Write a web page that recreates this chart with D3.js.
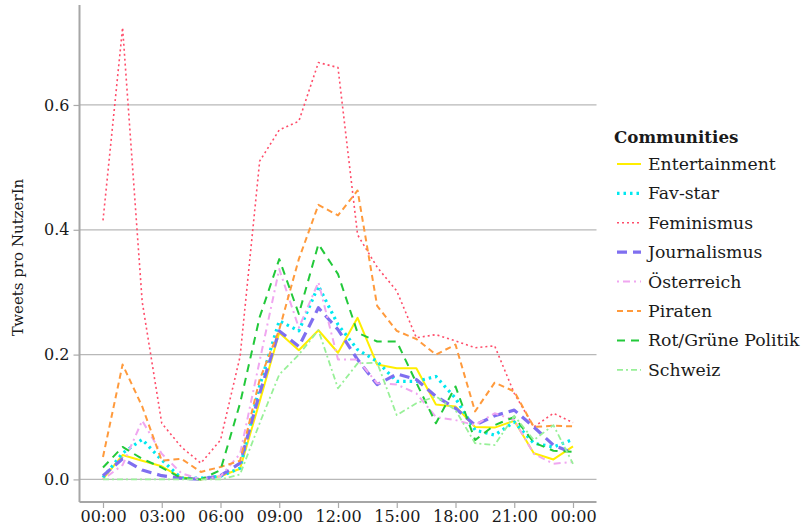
<!DOCTYPE html>
<html>
<head>
<meta charset="utf-8">
<script src="https://cdn.jsdelivr.net/npm/d3@7"></script>
<style>
  body { margin: 0; background: #fff; }
  text { font-family: "DejaVu Serif", serif; }
</style>
</head>
<body>
<div id="chart"></div>
<script>
// Data
const hours = d3.range(0, 25);
const communities = ["Entertainment", "Fav-star", "Feminismus", "Journalismus", "Österreich", "Piraten", "Rot/Grüne Politik", "Schweiz"];

const entertainment = [0.001, 0.039, 0.030, 0.021, 0.003, 0.000, 0.005, 0.017, 0.125, 0.235, 0.207, 0.239, 0.203, 0.259, 0.184, 0.178, 0.178, 0.120, 0.117, 0.084, 0.083, 0.094, 0.042, 0.032, 0.053];
const favStar = [0.003, 0.042, 0.064, 0.031, 0.002, 0.002, 0.005, 0.018, 0.150, 0.254, 0.238, 0.310, 0.248, 0.208, 0.189, 0.157, 0.157, 0.165, 0.130, 0.079, 0.071, 0.092, 0.058, 0.052, 0.064];
const feminismus = [0.415, 0.724, 0.285, 0.090, 0.052, 0.026, 0.063, 0.197, 0.510, 0.560, 0.574, 0.668, 0.660, 0.392, 0.340, 0.302, 0.227, 0.232, 0.222, 0.211, 0.214, 0.138, 0.084, 0.106, 0.091];
const journalismus = [0.006, 0.033, 0.015, 0.006, 0.002, 0.000, 0.006, 0.026, 0.138, 0.238, 0.213, 0.275, 0.240, 0.192, 0.152, 0.169, 0.160, 0.133, 0.114, 0.087, 0.102, 0.111, 0.084, 0.055, 0.042];
const oesterreich = [0.000, 0.023, 0.094, 0.041, 0.010, 0.000, 0.005, 0.041, 0.190, 0.337, 0.243, 0.316, 0.192, 0.192, 0.154, 0.152, 0.138, 0.100, 0.095, 0.087, 0.106, 0.095, 0.041, 0.025, 0.028];
const piraten = [0.036, 0.184, 0.117, 0.030, 0.033, 0.012, 0.020, 0.030, 0.160, 0.240, 0.353, 0.440, 0.423, 0.463, 0.278, 0.238, 0.225, 0.200, 0.216, 0.109, 0.155, 0.141, 0.084, 0.086, 0.085];
const rotGruen = [0.019, 0.052, 0.033, 0.019, 0.002, 0.000, 0.015, 0.122, 0.260, 0.353, 0.265, 0.377, 0.329, 0.235, 0.221, 0.221, 0.155, 0.090, 0.149, 0.063, 0.087, 0.100, 0.059, 0.046, 0.044];
const schweiz = [0.000, 0.000, 0.000, 0.000, 0.000, 0.000, 0.000, 0.008, 0.090, 0.168, 0.200, 0.239, 0.146, 0.186, 0.187, 0.103, 0.122, 0.133, 0.111, 0.058, 0.055, 0.102, 0.063, 0.087, 0.025];

const xTickHours = [0, 3, 6, 9, 12, 15, 18, 21, 24];
const xTickLabels = ["00:00", "03:00", "06:00", "09:00", "12:00", "15:00", "18:00", "21:00", "00:00"];
const yTicks = [0, 0.2, 0.4, 0.6];

const seriesValues = [entertainment, favStar, feminismus, journalismus, oesterreich, piraten, rotGruen, schweiz];

// Styles
const colors = ["#ffee00", "#00e8f0", "#ff4d6a", "#7f6ff0", "#f0a6f0", "#ff9a3c", "#22c93a", "#98f098"];
const dashes = ["none", "2.5 4", "2 3", "10 6", "2 4 7 4", "6 4", "8 6", "6 3 2 3"];
const widths = [2, 3.2, 1.6, 3.2, 2, 2, 2, 1.8];

const series = communities.map((name, i) => ({
  name,
  color: colors[i],
  dash: dashes[i],
  width: widths[i],
  values: seriesValues[i].map((v, j) => ({ h: hours[j], v })),
}));

// Dimensions
const dimensions = {
  width: 811,
  height: 529,
  left: 79.5,
  right: 596.5,
  top: 5,
  bottom: 502,
};

const svg = d3
  .select("#chart")
  .append("svg")
  .attr("width", dimensions.width)
  .attr("height", dimensions.height);

// Scales (ggplot-like 5% expansion)
const allValues = seriesValues.flat();
const yMax = d3.max(allValues);
const yPad = yMax * 0.05;
const xPad = 24 * 0.05;

const xScale = d3
  .scaleLinear()
  .domain([-xPad, 24 + xPad])
  .range([dimensions.left, dimensions.right]);

const yScale = d3
  .scaleLinear()
  .domain([-yPad, yMax + yPad])
  .range([dimensions.bottom, dimensions.top]);

// Gridlines
svg
  .append("g")
  .selectAll("line")
  .data(yTicks)
  .join("line")
  .attr("x1", dimensions.left)
  .attr("x2", dimensions.right)
  .attr("y1", (d) => yScale(d))
  .attr("y2", (d) => yScale(d))
  .attr("stroke", "#b8b8b8")
  .attr("stroke-width", 1.2);

// Axes
const xAxis = d3
  .axisBottom(xScale)
  .tickValues(xTickHours)
  .tickFormat((d, i) => xTickLabels[i])
  .tickSize(6)
  .tickPadding(3);

const yAxis = d3
  .axisLeft(yScale)
  .tickValues(yTicks)
  .tickFormat(d3.format(".1f"))
  .tickSize(6)
  .tickPadding(4);

const gx = svg
  .append("g")
  .attr("transform", `translate(0, ${dimensions.bottom})`)
  .call(xAxis);

const gy = svg
  .append("g")
  .attr("transform", `translate(${dimensions.left}, 0)`)
  .call(yAxis);

[gx, gy].forEach((g) => {
  g.select(".domain").remove();
  g.selectAll(".tick line").attr("stroke", "#aaaaaa").attr("stroke-width", 1.2);
  g.selectAll(".tick text")
    .attr("fill", "#1a1a1a")
    .style("font-size", "16px")
    .style("font-family", "'DejaVu Serif', serif");
});

// Axis lines
svg
  .append("line")
  .attr("x1", dimensions.left)
  .attr("x2", dimensions.left)
  .attr("y1", dimensions.top)
  .attr("y2", dimensions.bottom)
  .attr("stroke", "#a6a6a6")
  .attr("stroke-width", 2);

svg
  .append("line")
  .attr("x1", dimensions.left)
  .attr("x2", dimensions.right)
  .attr("y1", dimensions.bottom)
  .attr("y2", dimensions.bottom)
  .attr("stroke", "#a6a6a6")
  .attr("stroke-width", 2);

// Y label
svg
  .append("text")
  .attr("transform", `translate(23, ${(dimensions.top + dimensions.bottom) / 2 + 4}) rotate(-90)`)
  .attr("text-anchor", "middle")
  .style("font-size", "15px")
  .attr("fill", "#1a1a1a")
  .text("Tweets pro NutzerIn");

// Lines
const line = d3
  .line()
  .x((d) => xScale(d.h))
  .y((d) => yScale(d.v));

svg
  .append("g")
  .selectAll("path")
  .data(series)
  .join("path")
  .attr("d", (d) => line(d.values))
  .attr("fill", "none")
  .attr("stroke", (d) => d.color)
  .attr("stroke-width", (d) => d.width)
  .attr("stroke-dasharray", (d) => d.dash)
  .attr("stroke-linejoin", "round");

// Legend
const legend = svg.append("g").attr("transform", "translate(614, 137)");

legend
  .append("text")
  .attr("x", 0)
  .attr("y", 6)
  .style("font-size", "16.7px")
  .style("font-weight", "bold")
  .attr("fill", "#1a1a1a")
  .text("Communities");

const items = legend
  .selectAll(".item")
  .data(series)
  .join("g")
  .attr("class", "item")
  .attr("transform", (d, i) => `translate(0, ${27 + i * 29.4})`);

items
  .append("line")
  .attr("x1", 3)
  .attr("x2", 27)
  .attr("stroke", (d) => d.color)
  .attr("stroke-width", (d) => d.width)
  .attr("stroke-dasharray", (d) => d.dash);

items
  .append("text")
  .attr("x", 34)
  .attr("y", 6)
  .style("font-size", "17.3px")
  .attr("fill", "#1a1a1a")
  .text((d) => d.name);
</script>
</body>
</html>
